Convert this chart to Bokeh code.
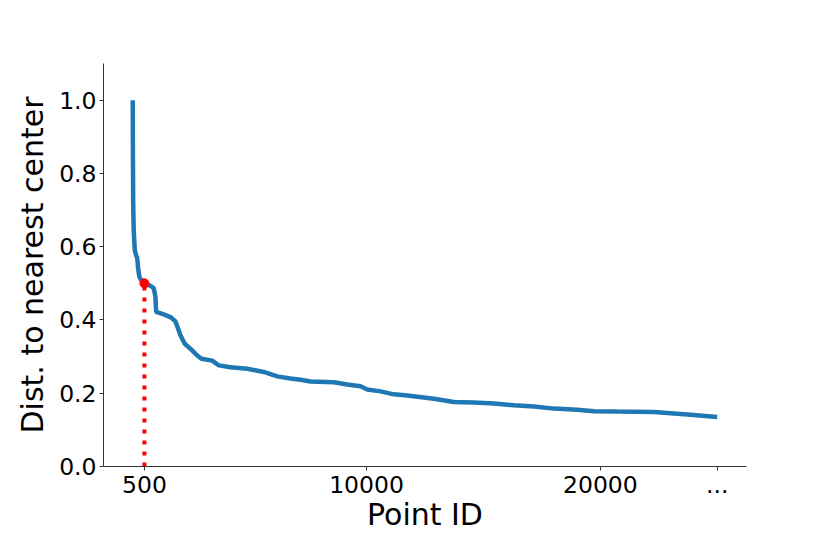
from bokeh.plotting import figure
from bokeh.models import Range1d, FixedTicker, PrintfTickFormatter
from bokeh.embed import file_html
from bokeh.resources import INLINE

# Sorted distances to nearest center (point ID -> distance)
point_ids = [0, 8, 20, 40, 70, 90, 150, 190, 231, 287, 402, 500, 757, 899,
             971, 1001, 1326, 1613, 1827, 1943, 2041, 2225, 2542, 2756, 2940,
             3398, 3680, 4181, 4895, 5605, 6179, 6748, 7176, 7604, 8601, 9174,
             9743, 10030, 10599, 11168, 11742, 12880, 13736, 14592, 15447,
             16303, 17159, 18015, 19016, 19726, 20727, 22294, 23723, 25000]
distances = [1.0, 0.85, 0.72, 0.65, 0.61, 0.59, 0.575, 0.57, 0.54, 0.517,
             0.505, 0.50, 0.493, 0.487, 0.463, 0.422, 0.415, 0.408, 0.396,
             0.376, 0.358, 0.335, 0.317, 0.303, 0.294, 0.289, 0.276, 0.271,
             0.267, 0.258, 0.246, 0.240, 0.237, 0.232, 0.230, 0.224, 0.219,
             0.210, 0.205, 0.197, 0.194, 0.185, 0.176, 0.175, 0.172, 0.167,
             0.164, 0.158, 0.155, 0.151, 0.150, 0.149, 0.142, 0.135]

# Highlighted cut-off point
cut_id = [500]
cut_dist = [0.5]

x_ticks = [500, 10000, 20000, 25000]
x_tick_labels = ["500", "10000", "20000", "..."]
y_ticks = [0.0, 0.2, 0.4, 0.6, 0.8, 1.0]

FONT = "DejaVu Sans"

p = figure(width=830, height=534, output_backend="svg", toolbar_location=None,
           x_range=Range1d(-1250, 26250), y_range=Range1d(0, 1.1),
           min_border_left=103, min_border_right=84, min_border_top=63,
           min_border_bottom=68)
p.outline_line_color = None
p.grid.visible = False
p.background_fill_color = "white"
p.border_fill_color = "white"

p.line(point_ids, distances, line_color="#1f77b4", line_width=4.5)
p.segment(x0=cut_id, y0=[0.0], x1=cut_id, y1=cut_dist, line_color="red",
          line_width=4, line_dash="4 7")
p.scatter(cut_id, cut_dist, size=9, fill_color="red", line_color="red")

p.xaxis.ticker = FixedTicker(ticks=x_ticks)
p.xaxis.major_label_overrides = {t: l for t, l in zip(x_ticks, x_tick_labels)}
p.yaxis.ticker = FixedTicker(ticks=y_ticks)
p.yaxis.formatter = PrintfTickFormatter(format="%.1f")

p.xaxis.axis_label = "Point ID"
p.yaxis.axis_label = "Dist. to nearest center"

for ax in (p.xaxis[0], p.yaxis[0]):
    ax.axis_line_color = "#333333"
    ax.axis_line_width = 1
    ax.major_tick_line_color = "#333333"
    ax.major_tick_in = 0
    ax.major_tick_out = 4
    ax.minor_tick_line_color = None
    ax.major_label_text_font = FONT
    ax.major_label_text_font_size = "23.5px"
    ax.major_label_text_color = "black"
    ax.axis_label_text_font = FONT
    ax.axis_label_text_font_size = "30px"
    ax.axis_label_text_font_style = "normal"
    ax.axis_label_text_color = "black"

p.xaxis.major_label_standoff = 5
p.xaxis.axis_label_standoff = 1
p.yaxis.major_label_standoff = 3
p.yaxis.axis_label_standoff = 6

open("out.html", "w").write(file_html(p, INLINE))
